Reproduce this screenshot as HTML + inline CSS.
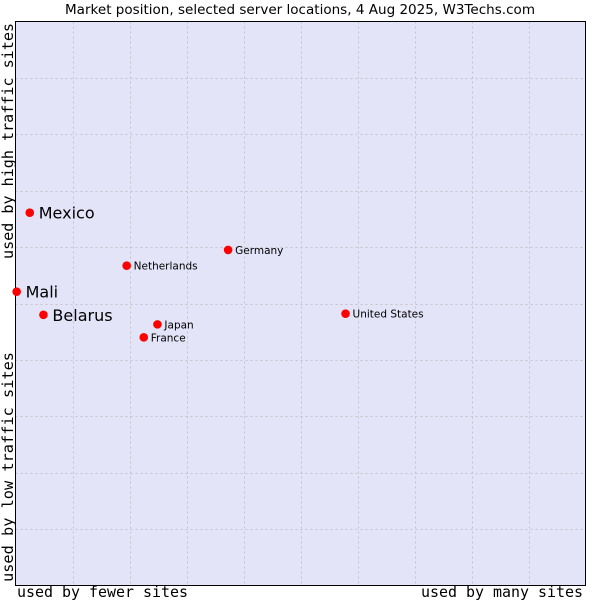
<!DOCTYPE html>
<html><head><meta charset="utf-8"><style>
body{margin:0;background:#fff;}
svg{display:block;}
</style></head><body>
<svg id="chart" width="600" height="600" xmlns="http://www.w3.org/2000/svg">
<text x="65" y="14" textLength="470" lengthAdjust="spacingAndGlyphs" font-family="DejaVu Sans, sans-serif" font-size="13" fill="#000">Market position, selected server locations, 4 Aug 2025, W3Techs.com</text>
<rect x="15.5" y="21.5" width="570" height="564" fill="#e3e4f8" stroke="none"/>
<g id="grid"></g>
<line x1="15.5" y1="21" x2="15.5" y2="586" stroke="#000" stroke-width="1"/>
<line x1="15" y1="585.5" x2="586" y2="585.5" stroke="#000" stroke-width="1"/>
<line x1="15" y1="21.5" x2="586" y2="21.5" stroke="#000" stroke-width="1"/>
<line x1="585.5" y1="21" x2="585.5" y2="586" stroke="#000" stroke-width="1"/>
<g id="points"></g>
<text x="17" y="597" textLength="171" lengthAdjust="spacingAndGlyphs" font-family="DejaVu Sans Mono, monospace" font-size="15" fill="#000">used by fewer sites</text>
<text x="421" y="597" textLength="162" lengthAdjust="spacingAndGlyphs" font-family="DejaVu Sans Mono, monospace" font-size="15" fill="#000">used by many sites</text>
<text transform="translate(13,582) rotate(-90)" textLength="230" lengthAdjust="spacingAndGlyphs" font-family="DejaVu Sans Mono, monospace" font-size="15" fill="#000">used by low traffic sites</text>
<text transform="translate(13,259) rotate(-90)" textLength="236" lengthAdjust="spacingAndGlyphs" font-family="DejaVu Sans Mono, monospace" font-size="15" fill="#000">used by high traffic sites</text>
</svg>
<script>
const countries = ["Mexico","Mali","Belarus","Netherlands","Germany","Japan","France","United States"];
const xValues = [2.5, 0.2, 4.9, 19.5, 37.3, 24.9, 22.5, 57.9];
const yValues = [66.1, 52.1, 48.0, 56.7, 59.5, 46.3, 44.0, 48.2];
const labelBig = [true, true, true, false, false, false, false, false];
const gridTicks = [10,20,30,40,50,60,70,80,90];

const X0=15.5, X1=585.5, Y0=585.5, Y1=21.5;
const xs = v => X0 + (X1-X0)*v/100;
const ys = v => Y0 - (Y0-Y1)*v/100;
const NS="http://www.w3.org/2000/svg";
const grid=document.getElementById('grid');
gridTicks.forEach(t=>{
  const vl=document.createElementNS(NS,'line');
  
  
  const x=Math.round(xs(t))+0.5;
  vl.setAttribute('x1',x);vl.setAttribute('x2',x);vl.setAttribute('y1',Y1);vl.setAttribute('y2',Y0);
  vl.setAttribute('stroke','#c4c4c8');vl.setAttribute('stroke-dasharray','2,3');
  grid.appendChild(vl);
  const hl=document.createElementNS(NS,'line');
  
  
  const y=Math.round(ys(t))+0.5;
  hl.setAttribute('x1',X0);hl.setAttribute('x2',X1);hl.setAttribute('y1',y);hl.setAttribute('y2',y);
  hl.setAttribute('stroke','#c4c4c8');hl.setAttribute('stroke-dasharray','2,3');
  grid.appendChild(hl);
});
const pts=document.getElementById('points');
countries.forEach((c,i)=>{
  const cx=xs(xValues[i]), cy=ys(yValues[i]);
  const m=document.createElementNS(NS,'circle');
  
  
  m.setAttribute('cx',cx);m.setAttribute('cy',cy);m.setAttribute('r',4.3);m.setAttribute('fill','#ff0000');
  pts.appendChild(m);
  const t=document.createElementNS(NS,'text');
  
  
  const big=labelBig[i];
  t.setAttribute('x',cx+(big?9:7));
  t.setAttribute('y',cy+(big?6:4));
  t.setAttribute('font-family','DejaVu Sans, sans-serif');
  t.setAttribute('font-size',big?16:10.5);
  t.setAttribute('fill','#000');
  t.textContent=c;
  pts.appendChild(t);
});
</script>
</body></html>
